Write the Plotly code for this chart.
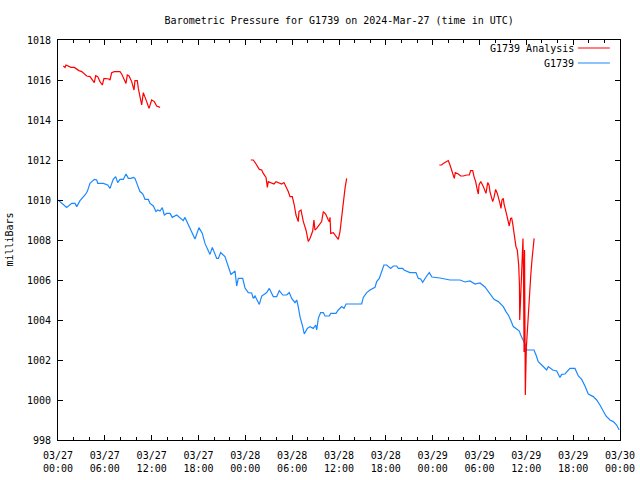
import pandas as pd
import plotly.graph_objects as go

# ---- data (hours after 2024-03-27 00:00 UTC, pressure in mbar) ----
blue_hours = [0.00, 0.26, 0.68, 1.11, 1.76, 2.18, 2.40, 2.82, 3.46, 3.75, 4.10, 4.65, 4.96, 5.09, 5.80,
              6.37, 6.66, 7.08, 7.39, 7.65, 7.94, 8.37, 8.71, 9.01, 9.35, 9.65, 9.86, 10.21, 10.50, 10.80,
              10.93, 11.15, 11.57, 11.79, 12.21, 12.55, 12.77, 13.07, 13.36, 13.62, 13.93, 14.35, 14.64,
              15.21, 15.63, 16.05, 16.27, 16.69, 17.13, 17.55, 18.06, 18.49, 18.83, 19.26, 19.47, 19.77,
              20.02, 20.33, 20.54, 20.84, 21.39, 21.82, 22.16, 22.68, 22.89, 23.10, 23.66, 23.96, 24.38,
              24.81, 25.02, 25.24, 25.79, 26.10, 26.74, 27.07, 27.58, 28.02, 28.35, 28.79, 29.30, 29.63,
              29.94, 30.36, 30.58, 30.78, 31.00, 31.35, 31.55, 31.94, 32.28, 32.71, 33.01, 33.14, 33.35,
              33.65, 33.99, 34.21, 34.76, 34.94, 35.62, 35.91, 36.34, 36.64, 36.90, 38.91, 39.11, 39.55,
              39.97, 40.61, 40.83, 41.16, 41.47, 41.76, 42.11, 42.62, 42.96, 43.39, 43.60, 44.16, 44.33,
              45.09, 45.86, 46.16, 46.47, 46.72, 47.23, 47.57, 47.91, 48.94, 50.22, 51.50, 52.14, 52.78,
              53.42, 54.06, 54.70, 55.34, 55.86, 56.41, 57.05, 57.39, 57.69, 57.99, 58.33, 58.76, 59.10,
              59.28, 59.61, 59.96, 60.05, 60.98, 61.24, 61.53, 61.97, 62.17, 62.61, 62.81, 63.38, 63.89,
              64.31, 64.53, 64.95, 65.59, 66.23, 66.66, 67.09, 67.51, 67.94, 68.58, 69.01, 69.43, 69.86,
              70.20, 70.71, 71.14, 71.57, 71.90]
blue_values = [1010.00, 1009.92, 1009.75, 1009.63, 1009.83, 1009.83, 1009.67, 1009.97, 1010.25, 1010.42,
               1010.83, 1011.03, 1011.00, 1010.83, 1010.83, 1010.75, 1010.58, 1011.03, 1011.17, 1010.87,
               1011.03, 1011.03, 1011.30, 1011.08, 1011.08, 1011.13, 1011.08, 1010.67, 1010.42, 1010.33,
               1010.25, 1010.03, 1010.03, 1009.83, 1009.70, 1009.42, 1009.50, 1009.45, 1009.62, 1009.25,
               1009.33, 1009.33, 1009.13, 1009.25, 1009.13, 1008.97, 1009.13, 1008.75, 1008.42, 1008.05,
               1008.62, 1008.33, 1007.83, 1007.42, 1007.28, 1007.63, 1007.35, 1007.08, 1007.08, 1007.37,
               1007.17, 1006.67, 1006.28, 1006.45, 1005.70, 1006.08, 1006.08, 1005.60, 1005.37, 1005.35,
               1005.08, 1005.20, 1004.78, 1005.20, 1005.37, 1005.58, 1005.17, 1005.17, 1005.47, 1005.25,
               1005.25, 1005.37, 1005.08, 1004.87, 1005.00, 1004.67, 1004.17, 1003.67, 1003.30, 1003.58,
               1003.67, 1003.58, 1003.75, 1003.50, 1004.08, 1004.37, 1004.37, 1004.20, 1004.20, 1004.33,
               1004.33, 1004.50, 1004.67, 1004.58, 1004.80, 1004.80, 1005.13, 1005.37, 1005.50, 1005.63,
               1005.92, 1006.08, 1006.47, 1006.75, 1006.75, 1006.58, 1006.70, 1006.70, 1006.58, 1006.58,
               1006.50, 1006.37, 1006.37, 1006.08, 1006.05, 1005.88, 1006.20, 1006.37, 1006.15, 1006.10,
               1006.00, 1006.00, 1005.90, 1005.95, 1005.80, 1005.85, 1005.65, 1005.30, 1005.03, 1004.92,
               1004.67, 1004.42, 1004.25, 1004.00, 1003.67, 1003.55, 1003.45, 1003.25, 1002.97, 1002.70,
               1002.50, 1002.50, 1002.25, 1001.92, 1001.75, 1001.67, 1001.50, 1001.67, 1001.50, 1001.45,
               1001.13, 1001.28, 1001.30, 1001.58, 1001.58, 1001.20, 1001.03, 1000.70, 1000.30, 1000.17,
               1000.00, 999.75, 999.47, 999.20, 999.00, 998.92, 998.75, 998.50]

red1_hours = [0.68, 0.90, 1.02, 1.41, 1.67, 2.09, 2.40, 2.69, 3.04, 3.37, 3.68, 4.10, 4.39, 4.65, 4.83,
              5.09, 5.38, 5.68, 5.89, 6.24, 6.53, 6.66, 6.88, 7.21, 7.94, 8.16, 8.49, 8.71, 8.88, 9.10,
              9.44, 9.74, 9.86, 10.16, 10.29, 10.50, 10.72, 10.93, 11.15, 11.36, 11.66, 12.00, 12.34,
              12.64, 13.07]
red1_values = [1016.70, 1016.63, 1016.75, 1016.70, 1016.63, 1016.63, 1016.53, 1016.47, 1016.42, 1016.30,
               1016.20, 1016.17, 1016.03, 1015.87, 1016.22, 1016.17, 1015.92, 1015.75, 1016.08, 1016.05,
               1016.05, 1016.00, 1016.37, 1016.42, 1016.42, 1016.30, 1016.03, 1015.83, 1016.25, 1016.20,
               1015.92, 1015.50, 1015.97, 1015.97, 1015.58, 1015.17, 1014.75, 1015.37, 1015.17, 1014.92,
               1014.58, 1015.00, 1014.92, 1014.70, 1014.63]

red2_hours = [24.69, 25.02, 25.37, 25.79, 26.10, 26.30, 26.65, 26.82, 26.94, 27.38, 27.67, 27.93, 28.35,
              28.66, 28.95, 29.21, 29.50, 29.72, 30.02, 30.27, 30.49, 30.78, 30.87, 31.13, 31.43, 31.77,
              32.07, 32.28, 32.63, 32.79, 32.92, 33.14, 33.48, 33.78, 33.99, 34.29, 34.63, 34.76, 34.85,
              34.94, 35.27, 35.62, 35.91, 36.13, 36.34, 36.55, 36.77, 36.98]
red2_values = [1012.00, 1012.00, 1011.80, 1011.53, 1011.50, 1011.33, 1011.13, 1010.63, 1010.92, 1010.87,
               1010.80, 1010.92, 1010.87, 1010.80, 1010.87, 1010.67, 1010.42, 1010.17, 1010.17, 1009.75,
               1009.25, 1008.92, 1009.42, 1009.50, 1008.92, 1008.50, 1007.92, 1008.08, 1008.45, 1009.00,
               1008.50, 1008.58, 1008.75, 1008.92, 1009.42, 1009.30, 1009.00, 1008.92, 1009.13, 1008.33,
               1008.37, 1008.20, 1008.03, 1008.42, 1009.25, 1009.75, 1010.58, 1011.08]

red3_hours = [48.85, 49.16, 49.36, 49.71, 50.00, 50.22, 50.44, 50.64, 50.77, 50.90, 51.28, 51.59, 51.92,
              52.36, 52.69, 52.87, 53.13, 53.30, 53.51, 53.72, 53.85, 53.94, 54.16, 54.49, 54.70, 54.83,
              55.05, 55.22, 55.34, 55.56, 55.69, 55.86, 56.07, 56.28, 56.50, 56.62, 56.75, 56.88, 57.05,
              57.14, 57.39, 57.56, 57.69, 57.81, 57.99, 58.12, 58.25, 58.42, 58.54, 58.67, 58.84, 59.02,
              59.12, 59.15, 59.25, 59.38, 59.51, 59.57, 59.64, 59.71, 59.77, 59.87, 60.00, 60.13, 60.31,
              60.44, 60.57, 60.74, 60.87, 61.00]
red3_values = [1011.75, 1011.75, 1011.83, 1011.92, 1011.97, 1011.75, 1011.50, 1011.25, 1011.08, 1011.37,
               1011.30, 1011.20, 1011.20, 1011.25, 1011.25, 1011.47, 1011.47, 1011.17, 1010.92, 1010.50,
               1010.30, 1010.75, 1010.92, 1010.67, 1010.47, 1010.33, 1010.87, 1010.75, 1010.42, 1010.17,
               1009.92, 1010.13, 1010.53, 1010.33, 1010.08, 1009.83, 1009.58, 1010.00, 1010.08, 1009.80,
               1009.42, 1009.13, 1008.92, 1008.70, 1009.08, 1009.10, 1008.83, 1008.42, 1008.08, 1007.67,
               1007.50, 1006.75, 1005.75, 1004.00, 1004.90, 1006.50, 1007.50, 1008.08, 1006.00, 1002.40,
               1007.50, 1000.25, 1002.60, 1003.58, 1004.42, 1005.42, 1006.25, 1007.08, 1007.75, 1008.08]

x_tick_hours = [0, 6, 12, 18, 24, 30, 36, 42, 48, 54, 60, 66, 72]
y_ticks = [998, 1000, 1002, 1004, 1006, 1008, 1010, 1012, 1014, 1016, 1018]

START = pd.Timestamp("2024-03-27 00:00")


def to_time(hours):
    return [START + pd.Timedelta(hours=h) for h in hours]


red_x = to_time(red1_hours) + [None] + to_time(red2_hours) + [None] + to_time(red3_hours)
red_y = red1_values + [None] + red2_values + [None] + red3_values

RED = "#ff0000"
BLUE = "#1a88ff"
FONT = "DejaVu Sans Mono"

fig = go.Figure()
fig.add_trace(go.Scatter(x=to_time(blue_hours), y=blue_values, mode="lines",
                         line=dict(color=BLUE, width=1.2), name="G1739", showlegend=False))
fig.add_trace(go.Scatter(x=red_x, y=red_y, mode="lines", connectgaps=False,
                         line=dict(color=RED, width=1.2), name="G1739 Analysis", showlegend=False))

tick_times = to_time(x_tick_hours)
fig.update_layout(
    width=640, height=480,
    margin=dict(l=58, r=20, t=40, b=40, autoexpand=False),
    paper_bgcolor="white", plot_bgcolor="white",
    font=dict(family=FONT, size=10, color="black"),
    title=dict(text="Barometric Pressure for G1739 on 2024-Mar-27 (time in UTC)",
               x=0.53, xanchor="center", y=1 - 20 / 480, yanchor="middle",
               font=dict(family=FONT, size=10, color="black")),
    xaxis=dict(type="date", range=[tick_times[0], tick_times[-1]],
               tickvals=tick_times, tickformat="%m/%d<br>%H:%M",
               ticks="inside", ticklen=5, tickcolor="black", tickwidth=1,
               minor=dict(dtick=2 * 3600 * 1000, ticks="inside", ticklen=3,
                          tickcolor="black", showgrid=False),
               showgrid=False, zeroline=False, showline=True, linecolor="black",
               linewidth=1, mirror="ticks", automargin=False, ticklabelstandoff=6),
    yaxis=dict(range=[998, 1018], tickvals=y_ticks,
               ticks="inside", ticklen=5, tickcolor="black", tickwidth=1,
               showgrid=False, zeroline=False, showline=True, linecolor="black",
               linewidth=1, mirror="ticks", ticklabelstandoff=4, automargin=False),
    showlegend=False,
)

# y-axis title
fig.add_annotation(text="milliBars", xref="paper", yref="paper", x=-0.088, y=0.5,
                   xanchor="center", yanchor="middle", textangle=-90, showarrow=False,
                   font=dict(family=FONT, size=10, color="black"))

# legend (gnuplot style: text left of line sample)
legend_items = [("G1739 Analysis", RED, 0.98), ("G1739", BLUE, 0.9425)]
for label, color, ly in legend_items:
    fig.add_annotation(text=label, xref="paper", yref="paper", x=0.922, y=ly,
                       xanchor="right", yanchor="middle", showarrow=False,
                       font=dict(family=FONT, size=10, color="black"))
    fig.add_shape(type="line", xref="paper", yref="paper", x0=0.925, x1=0.982,
                  y0=ly, y1=ly, line=dict(color=color, width=1.2))

fig.write_html("out.html")
